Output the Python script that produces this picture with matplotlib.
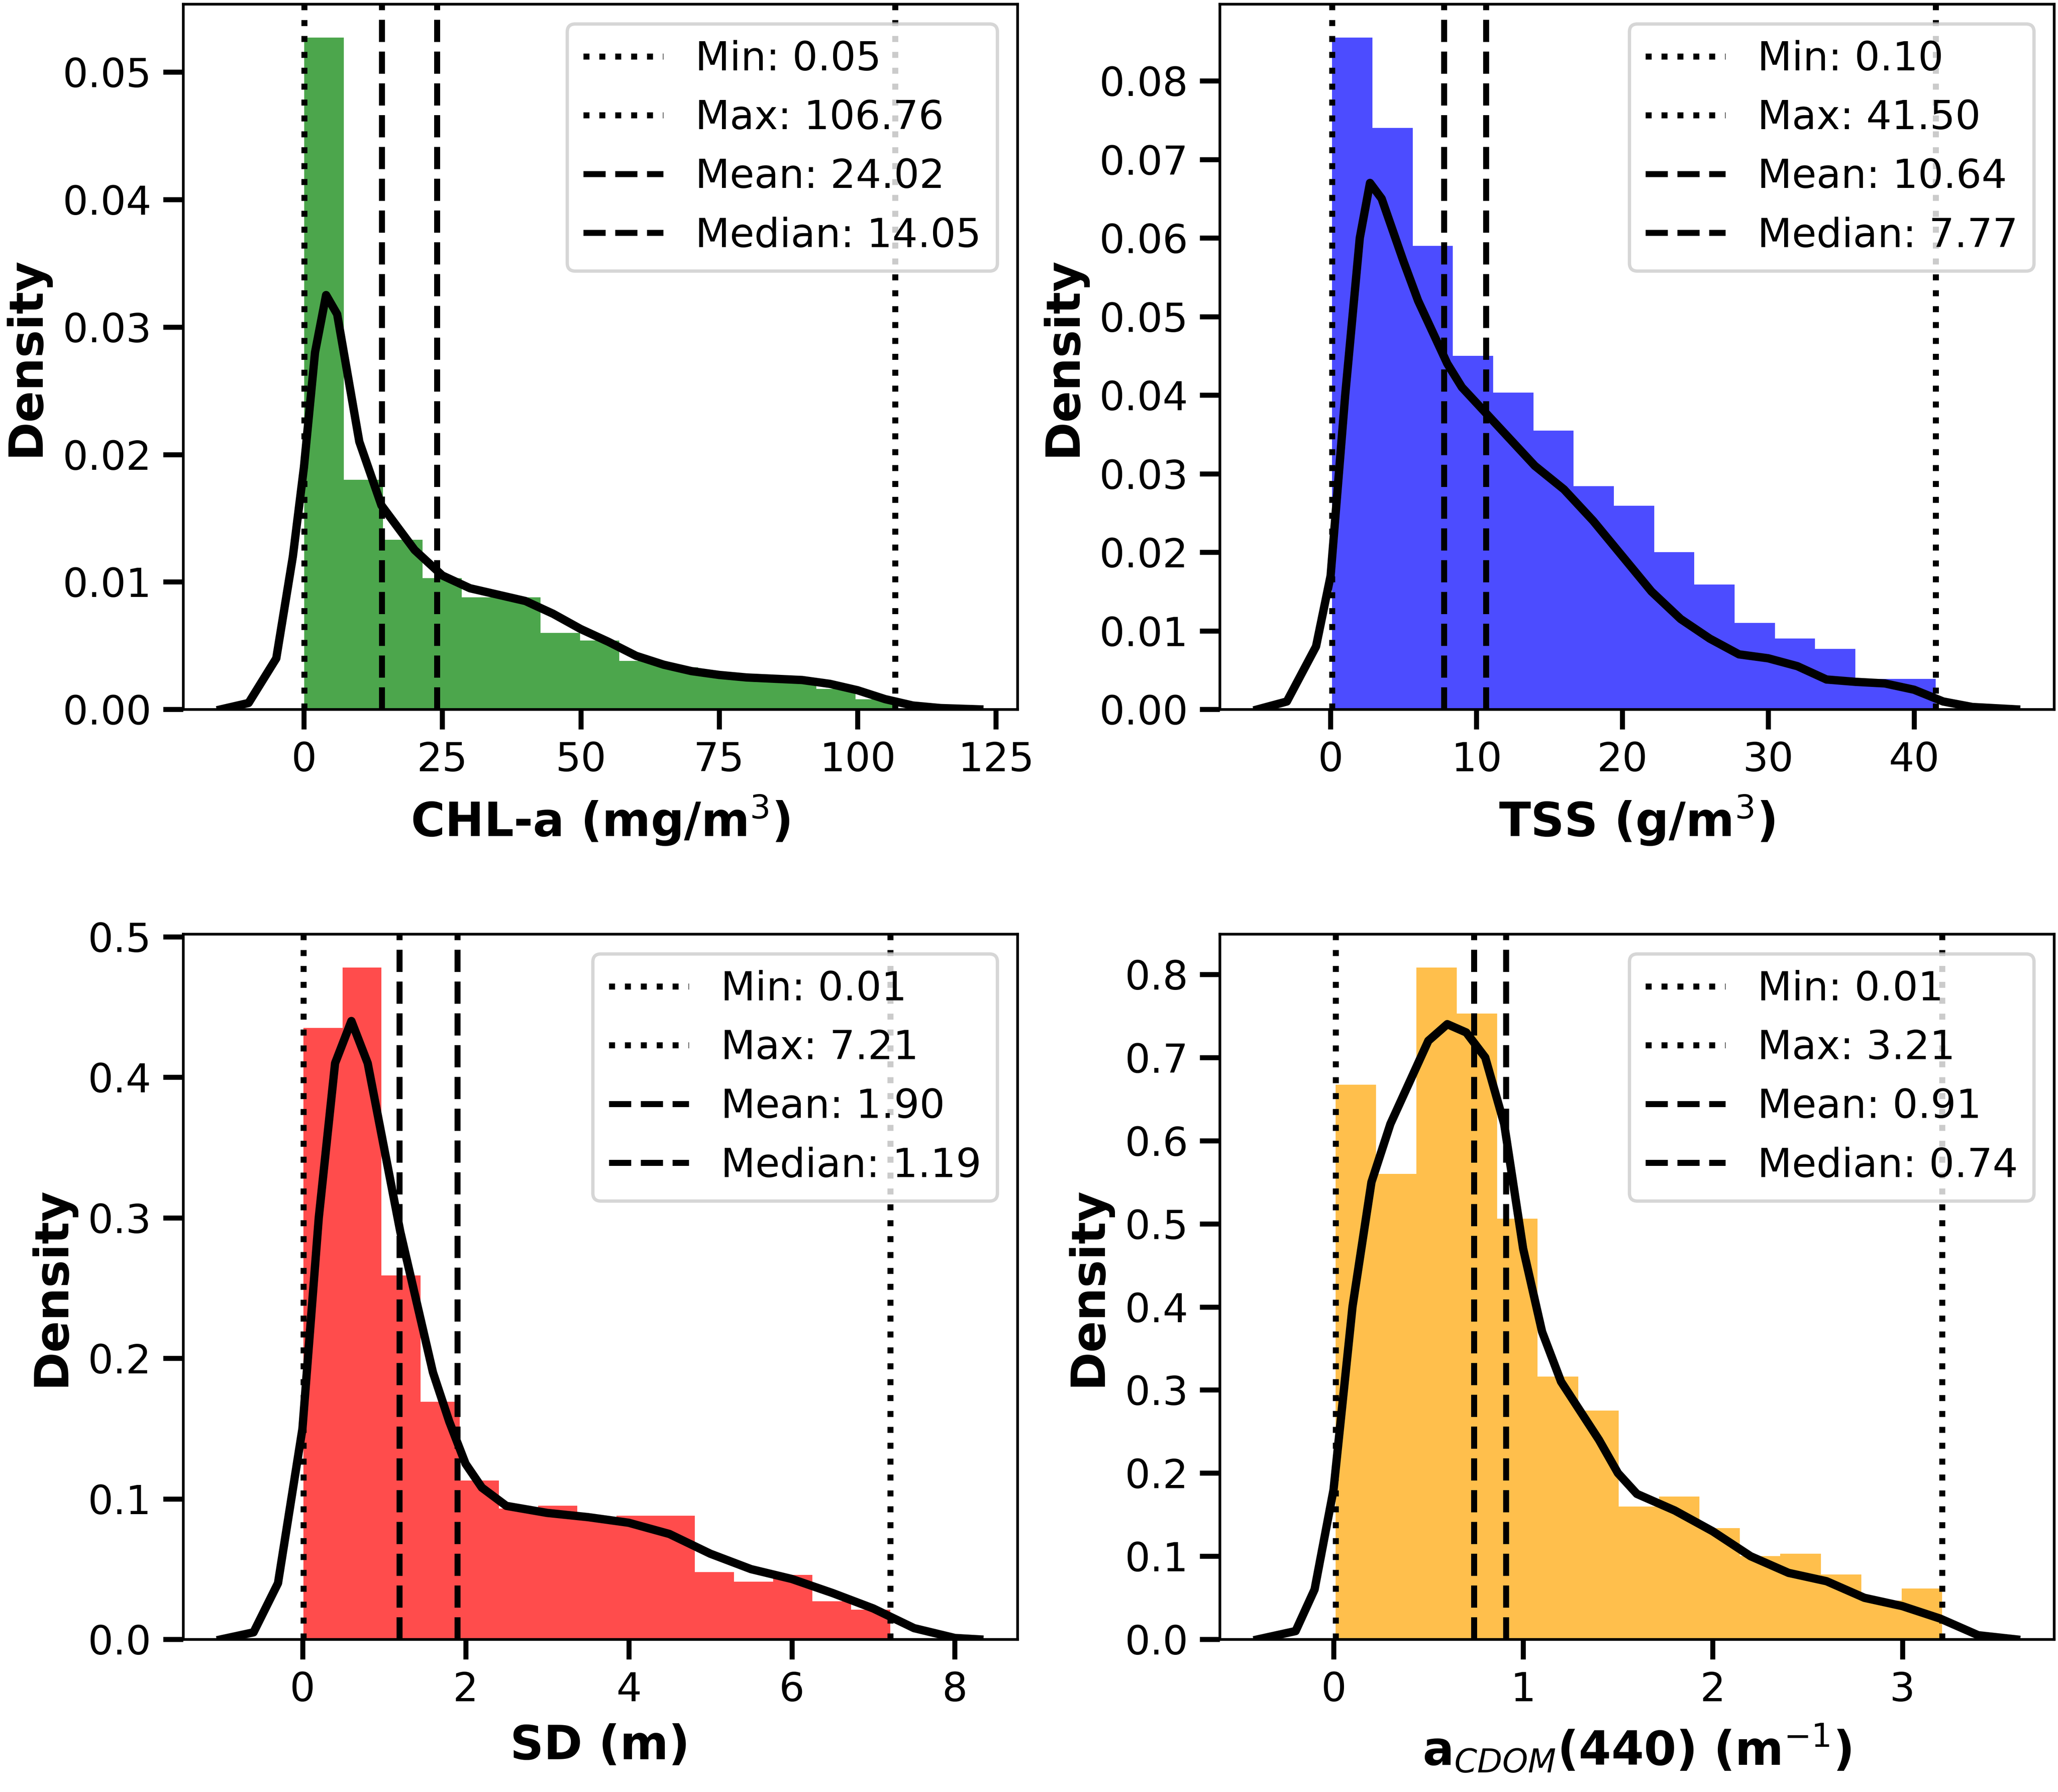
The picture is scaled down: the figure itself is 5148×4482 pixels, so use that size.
import numpy as np
import matplotlib.pyplot as plt
from matplotlib.ticker import MultipleLocator

# histogram bar heights (15 bins between min and max of each variable)
chl_heights = [0.0527, 0.018, 0.0133, 0.0103, 0.0088, 0.0088, 0.006, 0.0054, 0.0038, 0.0033, 0.0026, 0.0025, 0.0024, 0.0016, 0.0008]
tss_heights = [0.0855, 0.074, 0.059, 0.045, 0.0403, 0.0355, 0.0284, 0.0259, 0.02, 0.0159, 0.011, 0.009, 0.0077, 0.0039, 0.0039]
sd_heights = [0.435, 0.478, 0.259, 0.169, 0.113, 0.093, 0.095, 0.0855, 0.088, 0.088, 0.048, 0.041, 0.046, 0.027, 0.021]
cdom_heights = [0.667, 0.56, 0.808, 0.753, 0.506, 0.316, 0.275, 0.16, 0.172, 0.134, 0.1, 0.103, 0.078, 0.047, 0.061]

# stats: min, max, mean, median
chl_stats = [0.05, 106.76, 24.02, 14.05]
tss_stats = [0.10, 41.50, 10.64, 7.77]
sd_stats = [0.01, 7.21, 1.90, 1.19]
cdom_stats = [0.01, 3.21, 0.91, 0.74]

# density curves
chl_kde_x = [-15, -10, -5, -2, 0, 2, 4, 6, 8, 10, 14, 20, 25, 30, 35, 40, 45, 50, 55, 60, 65, 70, 75, 80, 90, 95, 100, 105, 110, 115, 122]
chl_kde_y = [0, 0.0005, 0.004, 0.012, 0.019, 0.028, 0.0325, 0.031, 0.026, 0.021, 0.016, 0.0125, 0.0105, 0.0095, 0.009, 0.0085, 0.0075, 0.0063, 0.0053, 0.0042, 0.0035, 0.003, 0.0027, 0.0025, 0.0023, 0.002, 0.0015, 0.0008, 0.0003, 0.0001, 0]
tss_kde_x = [-5, -3, -1, 0, 1, 2, 2.7, 3.5, 5, 6, 7, 8, 9, 10, 12, 14, 16, 18, 20, 22, 24, 26, 28, 30, 32, 34, 36, 38, 40, 42, 44, 47]
tss_kde_y = [0, 0.001, 0.008, 0.017, 0.04, 0.06, 0.067, 0.065, 0.057, 0.052, 0.048, 0.044, 0.041, 0.039, 0.035, 0.031, 0.028, 0.024, 0.0195, 0.015, 0.0115, 0.009, 0.007, 0.0065, 0.0055, 0.0038, 0.0035, 0.0033, 0.0025, 0.001, 0.0003, 0]
sd_kde_x = [-1, -0.6, -0.3, 0, 0.2, 0.4, 0.6, 0.8, 1.0, 1.2, 1.4, 1.6, 1.8, 2.0, 2.2, 2.5, 3, 3.5, 4, 4.5, 5, 5.5, 6, 6.5, 7, 7.5, 8, 8.3]
sd_kde_y = [0, 0.005, 0.04, 0.15, 0.3, 0.41, 0.44, 0.41, 0.35, 0.29, 0.24, 0.19, 0.155, 0.125, 0.108, 0.095, 0.09, 0.087, 0.083, 0.075, 0.061, 0.05, 0.043, 0.033, 0.022, 0.008, 0.001, 0]
cdom_kde_x = [-0.4, -0.2, -0.1, 0, 0.1, 0.2, 0.3, 0.4, 0.5, 0.6, 0.7, 0.8, 0.9, 1.0, 1.1, 1.2, 1.3, 1.4, 1.5, 1.6, 1.8, 2.0, 2.2, 2.4, 2.6, 2.8, 3.0, 3.2, 3.4, 3.6]
cdom_kde_y = [0, 0.01, 0.06, 0.18, 0.4, 0.55, 0.62, 0.67, 0.72, 0.74, 0.73, 0.7, 0.62, 0.47, 0.37, 0.31, 0.275, 0.24, 0.2, 0.175, 0.155, 0.13, 0.1, 0.08, 0.07, 0.05, 0.04, 0.025, 0.005, 0]

plt.rcParams['font.size'] = 12


# draws one histogram panel with density curve and stat lines
def PlotPanel(ax, heights, stats, kde_x, kde_y, color, xlabel, ystep):
    '''

    Draws the histogram, density curve and min/max/mean/median lines on ax

    Args:
        ax: axes to draw on
        heights: bar heights for the 15 bins
        stats: [min, max, mean, median]
        kde_x, kde_y: density curve points
        color: bar colour
        xlabel: x axis label
        ystep: spacing of y ticks

    '''
    vmin, vmax, vmean, vmed = stats
    edges = np.linspace(vmin, vmax, len(heights) + 1)
    ax.bar(edges[:-1], heights, width=np.diff(edges), align='edge', color=color, alpha=0.7)
    ax.plot(kde_x, kde_y, color='black', linewidth=2.5)
    ax.axvline(vmin, color='black', linestyle=':', linewidth=1.8, label='Min: %.2f' % vmin)
    ax.axvline(vmax, color='black', linestyle=':', linewidth=1.8, label='Max: %.2f' % vmax)
    ax.axvline(vmean, color='black', linestyle='--', linewidth=1.8, label='Mean: %.2f' % vmean)
    ax.axvline(vmed, color='black', linestyle='--', linewidth=1.8, label='Median: %.2f' % vmed)
    ax.set_xlabel(xlabel, fontsize=14, fontweight='bold')
    ax.set_ylabel('Density', fontsize=14, fontweight='bold')
    ax.yaxis.set_major_locator(MultipleLocator(ystep))
    ax.tick_params(width=1.5, length=6, labelsize=12)
    ax.legend(loc='upper right', fontsize=12)


fig, axes = plt.subplots(2, 2, figsize=(8.58, 7.47))
PlotPanel(axes[0, 0], chl_heights, chl_stats, chl_kde_x, chl_kde_y, 'green', r'CHL-a (mg/m$^3$)', 0.01)
PlotPanel(axes[0, 1], tss_heights, tss_stats, tss_kde_x, tss_kde_y, 'blue', r'TSS (g/m$^3$)', 0.01)
PlotPanel(axes[1, 0], sd_heights, sd_stats, sd_kde_x, sd_kde_y, 'red', 'SD (m)', 0.1)
PlotPanel(axes[1, 1], cdom_heights, cdom_stats, cdom_kde_x, cdom_kde_y, 'orange', r'a$_{CDOM}$(440) (m$^{-1}$)', 0.1)
axes[0, 0].set_xticks([0, 25, 50, 75, 100, 125])
axes[1, 1].set_xticks([0, 1, 2, 3])
plt.tight_layout(pad=0.1, h_pad=1.5)
plt.savefig('out.png', dpi=600)
